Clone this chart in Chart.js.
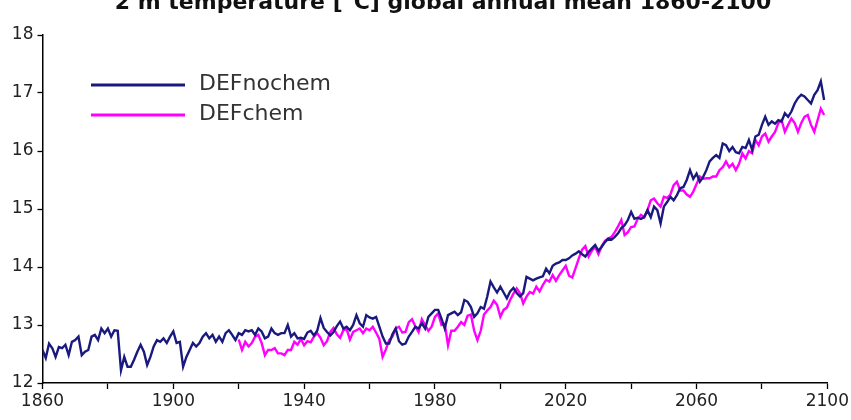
<!DOCTYPE html>
<html><head><meta charset="utf-8">
<script src="https://cdn.jsdelivr.net/npm/chart.js@4.4.1/dist/chart.umd.min.js"></script>
<style>html,body{margin:0;padding:0;background:#fff;overflow:hidden}#wrap{position:relative;width:851px;height:420px}</style>
</head><body><div id="wrap"><canvas id="c" width="851" height="420"></canvas></div>
<script>
const titleText = '2 m temperature [°C] global annual mean 1860-2100';
const seriesNames = ['DEFnochem', 'DEFchem'];
const startYearNochem = 1860;
const startYearChem = 1920;
const xTickLabels = [1860, 1900, 1940, 1980, 2020, 2060, 2100];
const yTickLabels = [12, 13, 14, 15, 16, 17, 18];

// DEFnochem, annual values 1860-2099
const nochem = [
  12.57,12.43,12.68,12.60,12.45,12.62,12.60,12.66,12.48,12.71,
  12.74,12.80,12.48,12.54,12.57,12.80,12.83,12.74,12.94,12.86,
  12.94,12.80,12.91,12.90,12.22,12.45,12.28,12.28,12.40,12.54,
  12.66,12.54,12.31,12.45,12.63,12.74,12.71,12.77,12.69,12.80,
  12.89,12.69,12.71,12.28,12.45,12.57,12.69,12.63,12.69,12.80,
  12.86,12.77,12.83,12.71,12.80,12.71,12.86,12.91,12.83,12.74,
  12.86,12.83,12.91,12.89,12.91,12.83,12.94,12.89,12.77,12.80,
  12.94,12.86,12.83,12.86,12.86,13.00,12.80,12.86,12.77,12.78,
  12.76,12.87,12.90,12.82,12.90,13.12,12.95,12.88,12.82,12.88,
  12.98,13.06,12.94,12.97,12.91,13.00,13.17,13.03,12.97,13.17,
  13.13,13.11,13.14,12.97,12.80,12.68,12.68,12.84,12.94,12.72,
  12.66,12.68,12.80,12.88,12.97,12.94,13.03,12.94,13.14,13.20,
  13.26,13.26,13.11,12.94,13.17,13.20,13.23,13.17,13.22,13.43,
  13.40,13.31,13.14,13.20,13.31,13.28,13.49,13.75,13.65,13.56,
  13.66,13.56,13.46,13.58,13.64,13.55,13.49,13.55,13.83,13.80,
  13.77,13.80,13.82,13.84,13.97,13.89,14.02,14.06,14.08,14.12,
  14.12,14.15,14.20,14.23,14.27,14.22,14.18,14.26,14.32,14.38,
  14.28,14.35,14.43,14.49,14.47,14.52,14.58,14.67,14.72,14.81,
  14.95,14.83,14.85,14.83,14.86,14.98,14.86,15.04,14.98,14.75,
  15.04,15.12,15.21,15.15,15.24,15.36,15.38,15.50,15.67,15.52,
  15.61,15.47,15.55,15.67,15.82,15.88,15.93,15.88,16.13,16.10,
  16.00,16.07,15.98,15.96,16.07,16.05,16.19,16.02,16.25,16.28,
  16.45,16.59,16.45,16.51,16.47,16.53,16.51,16.65,16.59,16.68,
  16.82,16.91,16.97,16.94,16.88,16.82,16.97,17.05,17.20,16.88
];

// DEFchem, annual values 1920-2099
const chem = [
  12.75,12.57,12.71,12.63,12.69,12.80,12.83,12.69,12.48,12.57,
  12.57,12.60,12.51,12.51,12.48,12.57,12.57,12.71,12.66,12.76,
  12.65,12.72,12.70,12.80,12.86,12.78,12.65,12.72,12.88,12.95,
  12.84,12.78,12.91,12.93,12.75,12.88,12.91,12.94,12.86,12.94,
  12.91,12.97,12.87,12.76,12.45,12.58,12.74,12.80,12.94,12.97,
  12.87,12.88,13.05,13.10,12.98,12.88,13.10,13.00,12.90,12.97,
  13.14,13.20,13.00,13.02,12.65,12.90,12.90,12.97,13.05,13.00,
  13.16,13.18,12.90,12.74,12.90,13.18,13.25,13.31,13.42,13.35,
  13.14,13.26,13.30,13.43,13.54,13.63,13.55,13.37,13.49,13.57,
  13.54,13.66,13.58,13.69,13.78,13.75,13.86,13.76,13.86,13.94,
  14.02,13.85,13.82,13.98,14.15,14.30,14.36,14.18,14.28,14.35,
  14.22,14.36,14.45,14.49,14.52,14.60,14.70,14.81,14.55,14.60,
  14.69,14.70,14.83,14.90,14.86,14.98,15.15,15.18,15.10,15.04,
  15.21,15.19,15.25,15.41,15.47,15.32,15.32,15.25,15.21,15.30,
  15.43,15.56,15.52,15.53,15.53,15.56,15.56,15.67,15.72,15.82,
  15.72,15.78,15.67,15.78,15.96,15.87,16.00,15.96,16.19,16.10,
  16.25,16.30,16.16,16.25,16.33,16.48,16.53,16.33,16.45,16.56,
  16.48,16.33,16.48,16.59,16.62,16.45,16.33,16.53,16.73,16.62
];

const navy = '#1a1a7e';
const magenta = '#ff00ff';
const FONT = '"DejaVu Sans", Verdana, sans-serif';

const titlePlugin = {
  id: 'topTitle',
  afterDraw(chart) {
    const ctx = chart.ctx;
    ctx.save();
    ctx.font = 'bold 22px ' + FONT;
    ctx.fillStyle = '#111';
    ctx.textAlign = 'center';
    ctx.textBaseline = 'alphabetic';
    ctx.fillText(titleText, 443, 9);
    ctx.restore();
  }
};

const legendPlugin = {
  id: 'innerLegend',
  afterDraw(chart) {
    const ctx = chart.ctx;
    const colors = [navy, magenta];
    const ys = [85, 115];
    ctx.save();
    for (let i = 0; i < seriesNames.length; i++) {
      ctx.strokeStyle = colors[i];
      ctx.lineWidth = 3;
      ctx.beginPath();
      ctx.moveTo(91, ys[i]);
      ctx.lineTo(185, ys[i]);
      ctx.stroke();
      ctx.font = '22px ' + FONT;
      ctx.fillStyle = '#333';
      ctx.textAlign = 'left';
      ctx.textBaseline = 'middle';
      ctx.fillText(seriesNames[i], 199, ys[i] - 1);
    }
    ctx.restore();
  }
};

new Chart(document.getElementById('c'), {
  type: 'line',
  data: {
    datasets: [
      {
        label: seriesNames[0],
        data: nochem.map((v, i) => ({ x: startYearNochem + i, y: v })),
        borderColor: navy, borderWidth: 2.4, pointRadius: 0, tension: 0, fill: false
      },
      {
        label: seriesNames[1],
        data: chem.map((v, i) => ({ x: startYearChem + i, y: v })),
        borderColor: magenta, borderWidth: 2.4, pointRadius: 0, tension: 0, fill: false
      }
    ]
  },
  options: {
    responsive: false,
    animation: false,
    devicePixelRatio: 1,
    layout: { padding: { top: 35, right: 22, left: 0, bottom: 0 } },
    plugins: { legend: { display: false }, title: { display: false }, tooltip: { enabled: false } },
    scales: {
      x: {
        type: 'linear', min: 1860, max: 2100, position: 'bottom',
        afterFit: s => { s.height = 37; },
        ticks: {
          stepSize: 20, autoSkip: false, maxRotation: 0, padding: 2,
          color: '#222', font: { family: FONT, size: 17 },
          callback: v => xTickLabels.includes(v) ? String(v) : ''
        },
        grid: { drawOnChartArea: false, drawTicks: true, tickLength: 6, color: '#000', tickWidth: 1.3 },
        border: { display: true, color: '#000', width: 1.5 }
      },
      y: {
        min: 12, max: 18,
        afterFit: s => { s.width = 42.5; },
        ticks: {
          stepSize: 1, padding: 4, color: '#222', font: { family: FONT, size: 17 },
          callback: v => yTickLabels.includes(v) ? String(v) : ''
        },
        grid: { drawOnChartArea: false, drawTicks: true, tickLength: 5, color: '#000', tickWidth: 1.3 },
        border: { display: true, color: '#000', width: 1.5 }
      }
    }
  },
  plugins: [titlePlugin, legendPlugin]
});
</script>
</body></html>
